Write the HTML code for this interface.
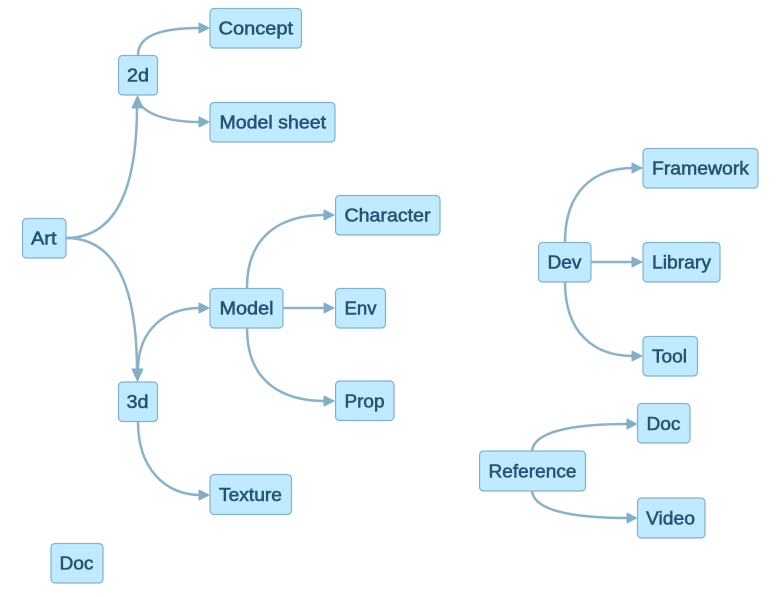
<!DOCTYPE html>
<html>
<head>
<meta charset="utf-8">
<style>
html,body{margin:0;padding:0;background:#fff;width:782px;height:597px;overflow:hidden}
svg{display:block}
.e{fill:none;stroke:#8ab2c8;stroke-width:2.5}
.a{fill:#82aec6;stroke:#82aec6;stroke-width:1;stroke-linejoin:round}
.n{fill:#bfeaff;stroke:#82b2c9;stroke-width:1.2}
text{font-family:"Liberation Sans",sans-serif;font-size:18px;fill:#245470;stroke:#245470;stroke-width:.55}
</style>
</head>
<body>
<svg width="782" height="597" viewBox="0 0 782 597" xmlns="http://www.w3.org/2000/svg">
<!-- edges -->
<path class="e" d="M66 238 C118 238 137 185 137 106"/>
<path class="e" d="M66 238 C118 238 137 291 137 372"/>
<path class="e" d="M138 55 C138 36 160 28 200 28"/>
<path class="e" d="M138 100 C143 114 168 122 200 122"/>
<path class="e" d="M138 370 C138 330 165 308 200 308"/>
<path class="e" d="M138 422 C138 468 165 495 200 495"/>
<path class="e" d="M247 288 C247 232 285 215 325 215"/>
<path class="e" d="M283 308 L325 308"/>
<path class="e" d="M247 328 C247 384 285 401 325 401"/>
<path class="e" d="M565 242 C565 190 595 168 633 168"/>
<path class="e" d="M591 262 L633 262"/>
<path class="e" d="M565 282 C565 334 595 356 633 356"/>
<path class="e" d="M532 451 C534 432 570 424 628 424"/>
<path class="e" d="M532 491 C534 510 570 518 628 518"/>
<!-- arrowheads -->
<polygon class="a" points="137.500,96 132,108 143,108"/>
<polygon class="a" points="137.500,381 132,369 143,369"/>
<polygon class="a" points="209,28 199,23 199,33"/>
<polygon class="a" points="209,122 199,117 199,127"/>
<polygon class="a" points="209,308 199,303 199,313"/>
<polygon class="a" points="209,495 199,490 199,500"/>
<polygon class="a" points="334,215 324,210 324,220"/>
<polygon class="a" points="334,308 324,303 324,313"/>
<polygon class="a" points="334,401 324,396 324,406"/>
<polygon class="a" points="642,168 632,163 632,173"/>
<polygon class="a" points="642,262 632,257 632,267"/>
<polygon class="a" points="642,356 632,351 632,361"/>
<polygon class="a" points="636.500,424 627,419 627,429"/>
<polygon class="a" points="636.500,518 627,513 627,523"/>
<!-- nodes -->
<rect class="n" x="210" y="8.500" width="91.500" height="39.500" rx="4"/>
<rect class="n" x="118.500" y="55.500" width="39" height="39.500" rx="4"/>
<rect class="n" x="210" y="102.500" width="125" height="39.500" rx="4"/>
<rect class="n" x="22.500" y="218.500" width="43.500" height="39.500" rx="4"/>
<rect class="n" x="335.500" y="195.500" width="104.500" height="39.500" rx="4"/>
<rect class="n" x="210" y="288.500" width="73" height="39.500" rx="4"/>
<rect class="n" x="335.500" y="288.500" width="50" height="39.500" rx="4"/>
<rect class="n" x="335.500" y="381" width="58.500" height="39.500" rx="4"/>
<rect class="n" x="118.500" y="382" width="39" height="39.500" rx="4"/>
<rect class="n" x="210" y="474.500" width="81.500" height="40" rx="4"/>
<rect class="n" x="51" y="543.500" width="52" height="39.500" rx="4"/>
<rect class="n" x="538.500" y="242.500" width="52.500" height="39.500" rx="4"/>
<rect class="n" x="643" y="148.500" width="115" height="39.500" rx="4"/>
<rect class="n" x="643" y="242.500" width="77" height="39.500" rx="4"/>
<rect class="n" x="643" y="336.500" width="54.500" height="39.500" rx="4"/>
<rect class="n" x="479.500" y="451" width="106" height="40" rx="4"/>
<rect class="n" x="637.500" y="403.500" width="52.500" height="39.500" rx="4"/>
<rect class="n" x="637.500" y="498" width="67.500" height="40" rx="4"/>
<!-- labels -->
<text x="218.500" y="34.500" textLength="74.500" lengthAdjust="spacingAndGlyphs">Concept</text>
<text x="127" y="81.500" textLength="22" lengthAdjust="spacingAndGlyphs">2d</text>
<text x="219.500" y="128.500" textLength="106.500" lengthAdjust="spacingAndGlyphs">Model sheet</text>
<text x="31" y="244.500" textLength="25.500" lengthAdjust="spacingAndGlyphs">Art</text>
<text x="344.500" y="221.500" textLength="86" lengthAdjust="spacingAndGlyphs">Character</text>
<text x="219.500" y="314.500" textLength="54" lengthAdjust="spacingAndGlyphs">Model</text>
<text x="344.500" y="314.500" textLength="32" lengthAdjust="spacingAndGlyphs">Env</text>
<text x="344.500" y="407.500" textLength="40" lengthAdjust="spacingAndGlyphs">Prop</text>
<text x="126.500" y="408" textLength="22" lengthAdjust="spacingAndGlyphs">3d</text>
<text x="219" y="501" textLength="63" lengthAdjust="spacingAndGlyphs">Texture</text>
<text x="59.500" y="569.500" textLength="34" lengthAdjust="spacingAndGlyphs">Doc</text>
<text x="547.500" y="268.500" textLength="34" lengthAdjust="spacingAndGlyphs">Dev</text>
<text x="652" y="174.500" textLength="97" lengthAdjust="spacingAndGlyphs">Framework</text>
<text x="652" y="268.500" textLength="59" lengthAdjust="spacingAndGlyphs">Library</text>
<text x="652" y="362.500" textLength="35" lengthAdjust="spacingAndGlyphs">Tool</text>
<text x="488.500" y="477.500" textLength="88" lengthAdjust="spacingAndGlyphs">Reference</text>
<text x="646.500" y="430" textLength="34" lengthAdjust="spacingAndGlyphs">Doc</text>
<text x="646" y="524.500" textLength="49" lengthAdjust="spacingAndGlyphs">Video</text>
</svg>
</body>
</html>
